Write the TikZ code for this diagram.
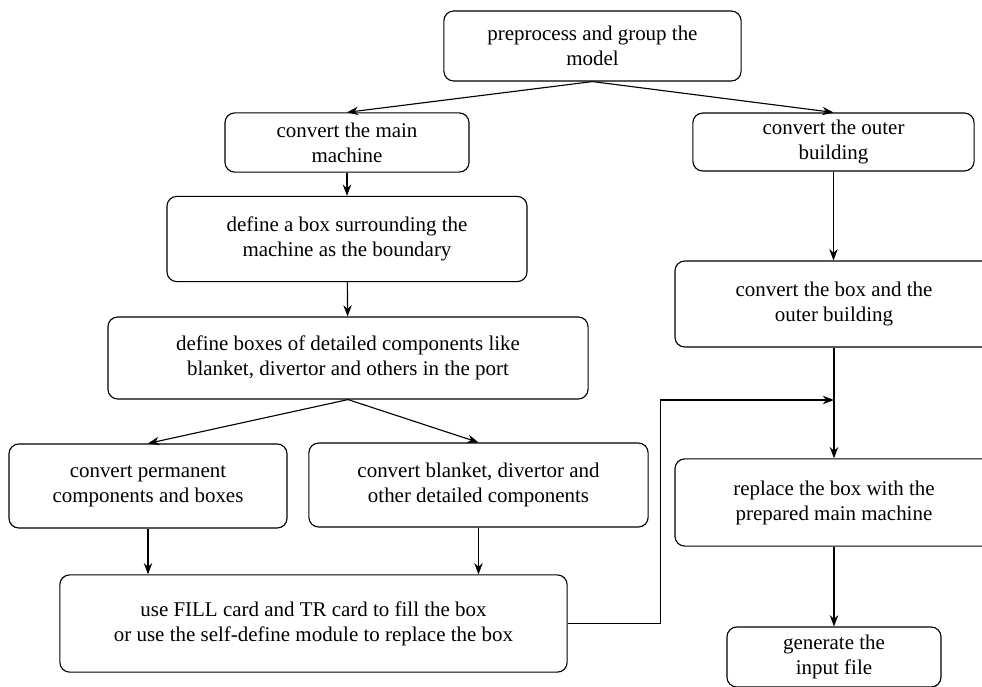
\documentclass[tikz,border=0pt]{standalone}
\usepackage{fontspec}
\setmainfont{Liberation Serif}
\usetikzlibrary{arrows.meta, positioning}

\begin{document}
\begin{tikzpicture}[x=0.025cm, y=-0.025cm, >={Stealth[length=8pt, width=6pt]}, line width=0.8pt,
    flowbox/.style={draw, rectangle, rounded corners=7pt, align=center, inner sep=0pt,
        font=\fontsize{14.9}{17.8}\selectfont}]
    \useasboundingbox (0,0) rectangle (982,686);

    \node[flowbox, minimum width=7.43cm, minimum height=1.75cm] (prep) at (592.5,46) {preprocess and group the\\model};

    \node[flowbox, minimum width=6.1cm, minimum height=1.48cm] (mainm) at (347,142.5) {convert the main\\machine};
    \node[flowbox, minimum width=7.03cm, minimum height=1.45cm] (outer) at (833.5,142) {convert the outer\\building};

    \node[flowbox, minimum width=9cm, minimum height=2.13cm] (bound) at (347,239) {define a box surrounding the\\machine as the boundary};
    \node[flowbox, minimum width=7.95cm, minimum height=2.15cm] (boxouter) at (834,304) {convert the box and the\\outer building};

    \node[flowbox, minimum width=12cm, minimum height=2.05cm] (detail) at (348,358) {define boxes of detailed components like\\blanket, divertor and others in the port};

    \node[flowbox, minimum width=6.95cm, minimum height=2.1cm] (perm) at (148,486) {convert permanent\\components and boxes};
    \node[flowbox, minimum width=8.48cm, minimum height=2.1cm] (blank) at (478.5,485) {convert blanket, divertor and\\other detailed components};
    \node[flowbox, minimum width=7.95cm, minimum height=2.18cm] (replace) at (834,502.5) {replace the box with the\\prepared main machine};

    \node[flowbox, minimum width=12.68cm, minimum height=2.43cm] (fill) at (313.5,623.5) {use FILL card and TR card to fill the box\\or use the self-define module to replace the box};
    \node[flowbox, minimum width=5.35cm, minimum height=1.5cm] (gen) at (834,657) {generate the\\input file};

    \coordinate (join) at (834,400);

    \draw[->] (prep.south) -- (mainm.north);
    \draw[->] (prep.south) -- (outer.north);
    \draw[->] (mainm) -- (bound);
    \draw[->] (outer.south) -- (outer.south |- boxouter.north);
    \draw[->] (bound) -- (detail);
    \draw[->] (detail.south) -- (perm.north);
    \draw[->] (detail.south) -- (blank.north);
    \draw[->] (perm.south) -- (perm.south |- fill.north);
    \draw[->] (blank.south) -- (blank.south |- fill.north);
    \draw[->] (boxouter) -- (replace);
    \draw[->] (fill.east) -- ++(93,0) |- (join);
    \draw[->] (replace) -- (gen);
\end{tikzpicture}
\end{document}
